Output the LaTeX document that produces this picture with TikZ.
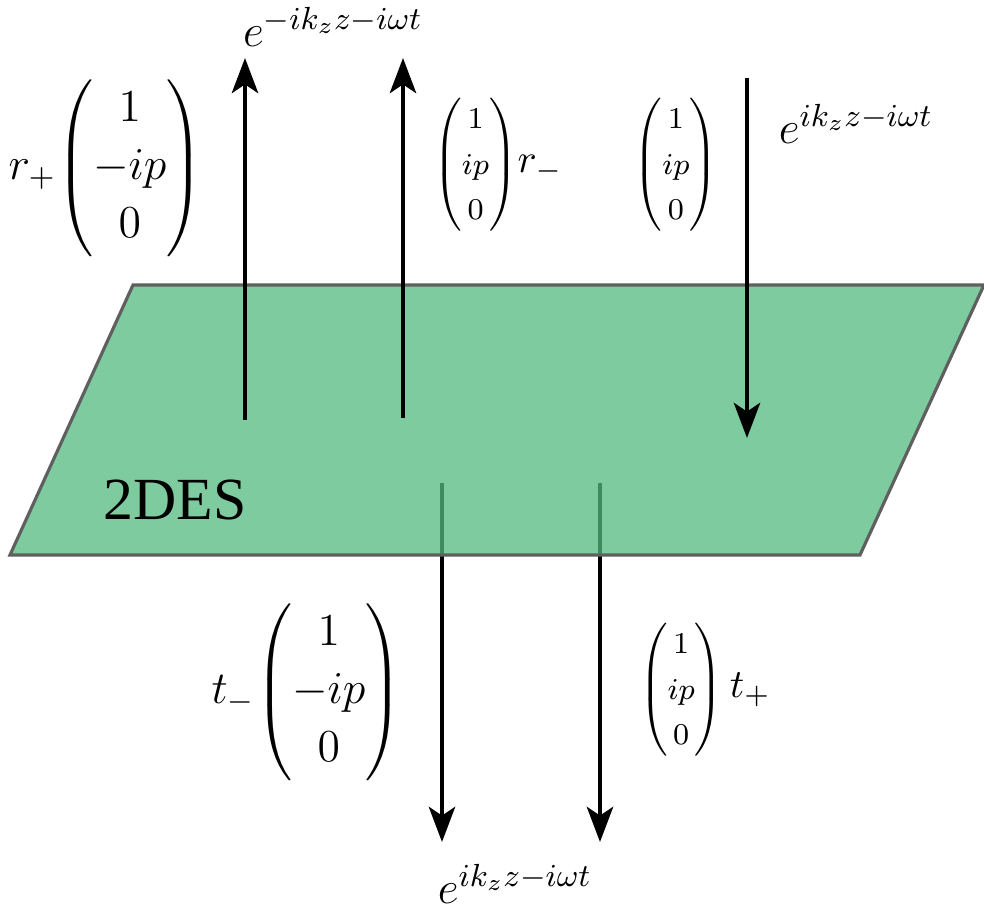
\documentclass[tikz,border=0pt]{standalone}
\usepackage{fix-cm}
\usepackage{amsmath}
\usepackage{fontspec}
\usepackage{tikz}
\usetikzlibrary{arrows.meta}
\newfontfamily\planefont{Liberation Serif}
\definecolor{planegreen}{RGB}{82,186,126}
\definecolor{planeedge}{RGB}{95,95,95}
\newcommand{\smallvec}[3]{\mbox{\fontsize{8.6}{13}\selectfont$\begin{pmatrix}#1\\#2\\#3\end{pmatrix}$}}

\begin{document}
\begin{tikzpicture}[x=0.01cm, y=-0.01cm,
    wave/.style={line width=1.1pt, -{Stealth[length=10pt, width=7.5pt, inset=2.5pt]}},
    big/.style={font=\fontsize{13}{16.5}\selectfont},
    small/.style={font=\fontsize{11.4}{12.8}\selectfont}]
    \useasboundingbox (0,0) rectangle (984,916);
    % transmitted waves, behind the plane
    \coordinate (t1) at (442,483);
    \coordinate (t2) at (600,483);
    \coordinate (b1) at (442,842);
    \coordinate (b2) at (600,842);
    \draw [wave] (t1) -- (b1);
    \draw [wave] (t2) -- (b2);
    % the plane
    \draw [planeedge, line width=0.9pt, fill=planegreen, fill opacity=0.75]
        (133,285) -- (984,285) -- (860,555) -- (10,555) -- cycle;
    \node [font=\planefont\fontsize{17}{20}\selectfont] (des) at (175,500) {2DES};
    % reflected and incident waves
    \coordinate (s1) at (245,420);
    \coordinate (s2) at (403,418);
    \coordinate (e1) at (245,58);
    \coordinate (e2) at (403,58);
    \coordinate (in) at (747,78);
    \coordinate (hit) at (747,438);
    \draw [wave] (s1) -- (e1);
    \draw [wave] (s2) -- (e2);
    \draw [wave] (in) -- (hit);
    % labels
    \node [big] (eup) at (333,27) {$e^{-ik_zz-i\omega t}$};
    \node [big] (ein) at (856,124) {$e^{ik_zz-i\omega t}$};
    \node [big] (eout) at (515,884) {$e^{ik_zz-i\omega t}$};
    \node [big] (rplus) at (106,168) {$r_+\!\begin{pmatrix}1\\-ip\\0\end{pmatrix}$};
    \node [big] (tminus) at (307,692) {$t_-\!\begin{pmatrix}1\\-ip\\0\end{pmatrix}$};
    \node [small] (rminus) at (498,165) {$\smallvec{1}{ip}{0}r_-$};
    \node [small] (pin) at (676,165) {$\smallvec{1}{ip}{0}$};
    \node [small] (tplus) at (705,690) {$\smallvec{1}{ip}{0}\,t_+$};
\end{tikzpicture}
\end{document}
